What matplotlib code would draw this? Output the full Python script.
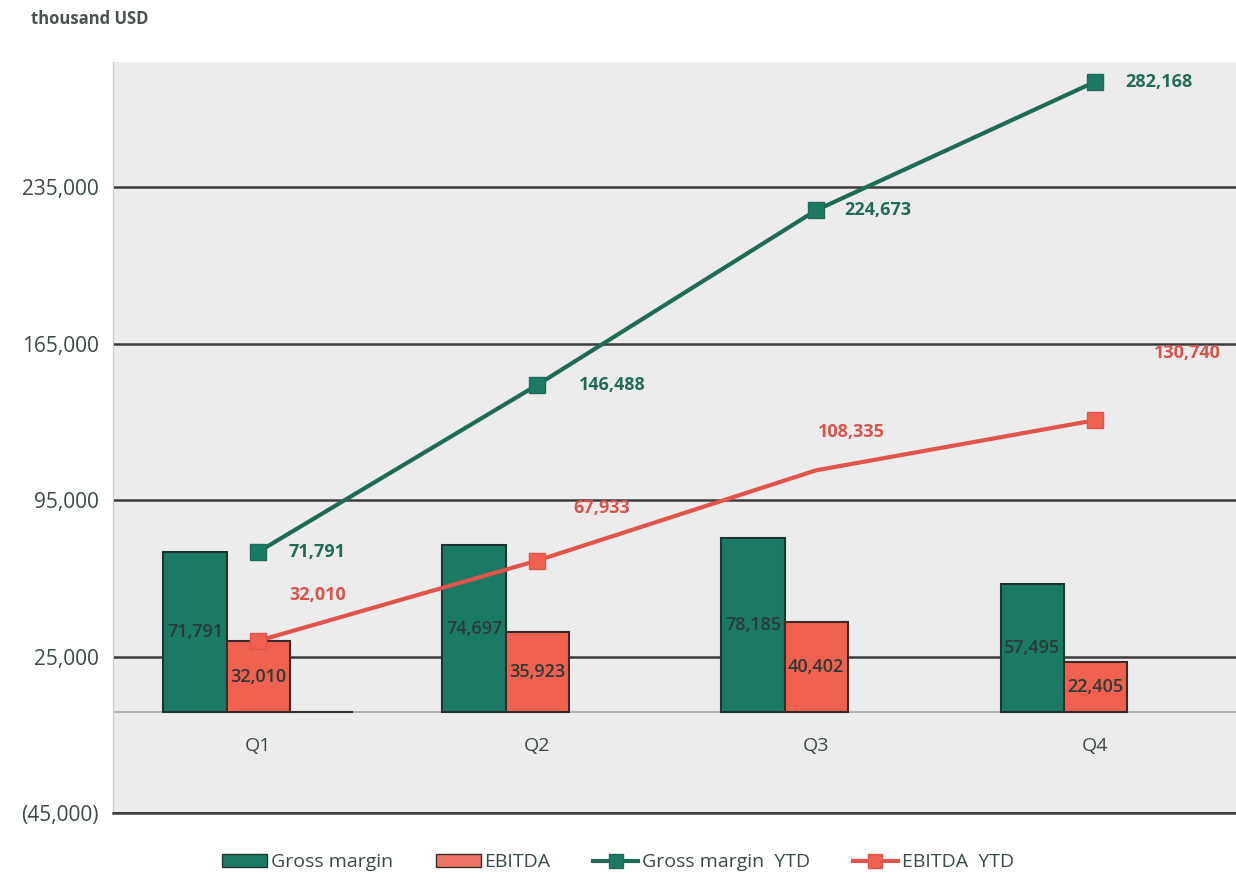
import numpy as np
import matplotlib.pyplot as plt
from matplotlib.ticker import FuncFormatter

plt.rcParams['font.family'] = ['Open Sans', 'DejaVu Sans']

quarters = ['Q1', 'Q2', 'Q3', 'Q4']
gross_margin = [71791, 74697, 78185, 57495]
ebitda = [32010, 35923, 40402, 22405]
other = [300, np.nan, np.nan, np.nan]
gross_margin_ytd = [71791, 146488, 224673, 282168]
ebitda_ytd = [32010, 67933, 108335, 130740]
yticks = [-45000, 25000, 95000, 165000, 235000]

GREEN = '#1b7a64'
GREEN_LINE = '#1f6b58'
RED = '#f0624f'
RED_LINE = '#e0544b'
TEXT = '#3b4a48'

fig = plt.figure(figsize=(12.36, 8.8), dpi=100)
ax = fig.add_axes([0.0914, 0.0761, 0.9086, 0.8534])
ax.set_facecolor('#ececec')

x = np.arange(len(quarters))
w = 0.226

b1 = ax.bar(x - w, gross_margin, w, color=GREEN, edgecolor='#1d3530', linewidth=1.5, zorder=3)
b2 = ax.bar(x, ebitda, w, color=RED, edgecolor='#3a2a28', linewidth=1.5, zorder=3)
ax.bar(x + w, other, w, color='#333333', edgecolor='#333333', linewidth=1.5, zorder=3)

for bars, vals in ((b1, gross_margin), (b2, ebitda)):
    for r, v in zip(bars, vals):
        ax.text(r.get_x() + r.get_width() / 2, v / 2, f'{v:,}', ha='center', va='center',
                fontsize=13, fontweight='semibold', color='#2e3a39', zorder=4)

ax.plot(x, gross_margin_ytd, color=GREEN_LINE, lw=3, marker='s', ms=11,
        markerfacecolor=GREEN, markeredgecolor=GREEN_LINE, zorder=5)
ax.plot(x, ebitda_ytd, color=RED_LINE, lw=3, marker='s', ms=11,
        markerfacecolor=RED, markeredgecolor=RED_LINE, markevery=[0, 1, 3], zorder=5)

# value labels next to the YTD markers (offsets in pixels)
gm_offsets = [(30, 0), (42, 0), (28, 0), (30, 0)]
eb_offsets = [(60, 46), (65, 53), (35, 38), (92, 67)]
for i, v in enumerate(gross_margin_ytd):
    ax.annotate(f'{v:,}', (x[i], v), xytext=gm_offsets[i], textcoords='offset pixels',
                ha='left', va='center', fontsize=13, fontweight='bold', color=GREEN_LINE, zorder=6)
for i, v in enumerate(ebitda_ytd):
    ax.annotate(f'{v:,}', (x[i], v), xytext=eb_offsets[i], textcoords='offset pixels',
                ha='center', va='center', fontsize=13, fontweight='bold', color='#d9544c', zorder=6)

ax.set_xlim(-0.52, 3.505)
ax.set_ylim(-45000, 291000)
ax.set_yticks(yticks)
ax.yaxis.set_major_formatter(FuncFormatter(lambda v, p: f'({abs(v):,.0f})' if v < 0 else f'{v:,.0f}'))
ax.set_xticks(x, quarters)
ax.grid(axis='y', color='#3c3c3c', lw=1.8, zorder=1)
ax.axhline(0, color='#b5b5b5', lw=1.5, zorder=2)
ax.tick_params(axis='both', length=0, labelsize=15, labelcolor=TEXT)
ax.tick_params(axis='y', pad=10)
# quarter names sit inside the plot, just under the zero line
ax.tick_params(axis='x', pad=-55, labelsize=14)
ax.xaxis.set_zorder(4)
for s in ('top', 'right'):
    ax.spines[s].set_visible(False)
ax.spines['left'].set_color('#c8c8c8')
ax.spines['bottom'].set_color('#3c3c3c')
ax.spines['bottom'].set_linewidth(1.8)

fig.text(0.025, 0.978, 'thousand USD', fontsize=12, fontweight='bold', color='#4a5250', va='center')

handles = [
    plt.Rectangle((0, 0), 1, 1, facecolor=GREEN, edgecolor='#1d3530'),
    plt.Rectangle((0, 0), 1, 1, facecolor='#ee7468', edgecolor='#3a2a28'),
    plt.Line2D([], [], color=GREEN_LINE, lw=3, marker='s', ms=10, markerfacecolor=GREEN),
    plt.Line2D([], [], color=RED_LINE, lw=3, marker='s', ms=10, markerfacecolor=RED),
]
labels = ['Gross margin', 'EBITDA', 'Gross margin  YTD', 'EBITDA  YTD']
fig.legend(handles, labels, loc='center', bbox_to_anchor=(0.5, 0.02), ncol=4, frameon=False,
           fontsize=14, handlelength=2.3, handletextpad=0.2, columnspacing=2.2,
           labelcolor=TEXT)

fig.savefig('out.png', dpi=100, facecolor='white')
